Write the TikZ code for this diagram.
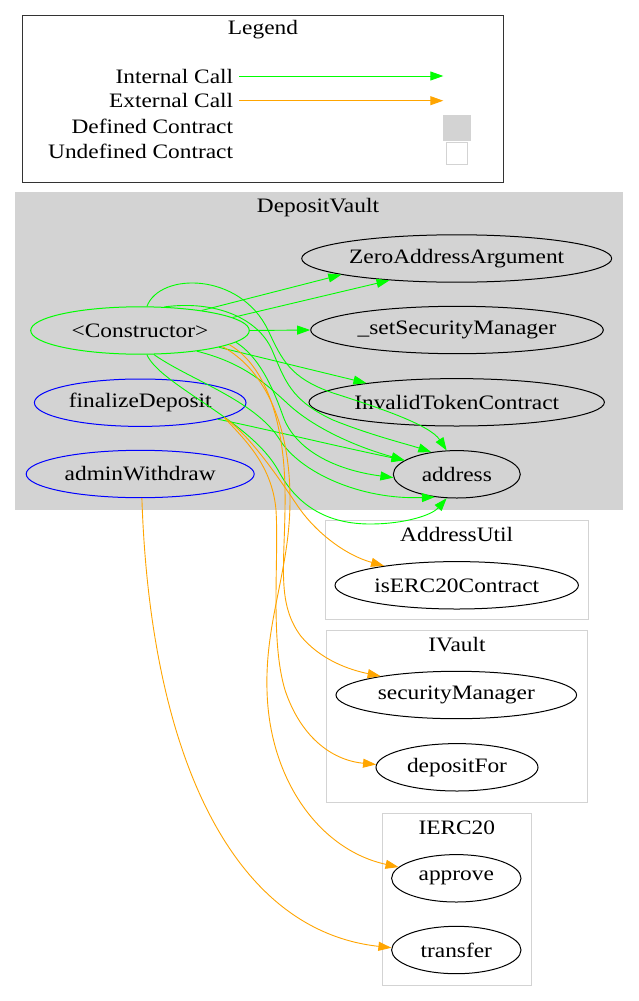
\documentclass[tikz,border=0pt]{standalone}
\usepackage{fontspec}
\setmainfont{Liberation Serif}[FakeStretch=1.14]
\usetikzlibrary{shapes.geometric,arrows.meta}
\definecolor{intc}{HTML}{00FF00}
\definecolor{extc}{HTML}{FFA500}
\definecolor{defc}{HTML}{D3D3D3}
\definecolor{cbord}{HTML}{D3D3D3}
\definecolor{funcb}{HTML}{0000FF}
\definecolor{legb}{HTML}{333333}
\newcommand{\gvfont}{\fontsize{20.5}{24}\selectfont}
\begin{document}
\begin{tikzpicture}[x=1pt,y=-1pt,
  every node/.style={font=\gvfont},
  fn/.style={ellipse,draw=black,line width=1pt,inner sep=0pt,minimum height=47.4pt,minimum width=#1},
  ctorfn/.style={fn=#1,draw=intc},
  pubfn/.style={fn=#1,draw=funcb},
  clus/.style={draw=cbord,line width=1pt},
  lbl/.style={inner sep=0pt},
  int/.style={draw=intc,line width=0.9pt,-{Triangle[length=13pt,width=9pt]}},
  ext/.style={draw=extc,line width=0.9pt,-{Triangle[length=13pt,width=9pt]}}
]
\useasboundingbox (0,0) rectangle (639,1001);
\fill[white] (0,0) rectangle (639,1001);

% Legend
\draw[draw=legb,line width=0.9pt] (22,15.3) rectangle (503.3,182.7);
\node[lbl] (legend) at (263,30) {Legend};
\node[lbl,anchor=east] (lint) at (233.3,76) {Internal Call};
\node[lbl,anchor=east] (lext) at (233.3,100.7) {External Call};
\node[lbl,anchor=east] (ldef) at (233.3,126) {Defined Contract};
\node[lbl,anchor=east] (lund) at (233.3,151.7) {Undefined Contract};
\coordinate (li0) at (239.3,76);
\coordinate (li1) at (443.3,76);
\coordinate (le0) at (239.3,100.7);
\coordinate (le1) at (443.3,100.7);
\draw[int] (li0) -- (li1);
\draw[ext] (le0) -- (le1);
\draw[fill=defc,draw=defc,line width=0.8pt] (443.3,115) rectangle (470,140);
\draw[fill=white,draw=cbord,line width=0.8pt] (446,142.7) rectangle (467.7,164);

% Clusters
\fill[defc] (15,192) rectangle (623,509.5);
\node[lbl] (cdv) at (318,207.5) {DepositVault};
\draw[clus] (325,520) rectangle (588.7,619.3);
\node[lbl] (cau) at (456.7,534) {AddressUtil};
\draw[clus] (326.7,630.7) rectangle (587.3,802.3);
\node[lbl] (civ) at (457,645) {IVault};
\draw[clus] (382,813.3) rectangle (531.7,985);
\node[lbl] (cie) at (456.8,827.7) {IERC20};

% Nodes
\node[ctorfn=218.6pt] (ctor) at (140,330.5) {<Constructor>};
\node[pubfn=211.6pt] (fin) at (140.2,402.7) {finalizeDeposit};
\node[pubfn=228pt] (adm) at (140.2,474) {adminWithdraw};
\node[fn=310pt] (zaa) at (456.7,258.5) {ZeroAddressArgument};
\node[fn=292.6pt] (ssm) at (457,330) {\_setSecurityManager};
\node[fn=295.4pt] (itc) at (456.7,402.3) {InvalidTokenContract};
\node[fn=127pt] (addr) at (456.8,474.3) {address};
\node[fn=243.4pt] (iserc) at (456.7,585.3) {isERC20Contract};
\node[fn=240.6pt] (sec) at (456.3,695) {securityManager};
\node[fn=162pt] (dep) at (457,767.3) {depositFor};
\node[fn=129.4pt] (app) at (456.3,878.3) {approve};
\node[fn=129.4pt] (tr) at (456.3,950) {transfer};

% Internal calls
\draw[int] (ctor.18) -- (zaa.188.3);
\draw[int] (ctor.8.8) -- (zaa.198.6);
\draw[int] (ctor.east) -- (ssm.west);
\draw[int] (ctor.-12) -- (itc.168);
\draw[int] (ctor.74) .. controls (160,272) and (240,272) .. (268,330)
  .. controls (282,360) and (290,378) .. (333,393)
  .. controls (380,408) and (430,425) .. (addr.113);
\draw[int] (ctor.44) .. controls (215,300) and (258,318) .. (272,350)
  .. controls (285,380) and (290,400) .. (333,420)
  .. controls (370,435) and (410,445) .. (addr.139);
\draw[int] (ctor.-20) .. controls (240,362) and (262,380) .. (287,403)
  .. controls (310,425) and (350,445) .. (addr.165);
\draw[int] (fin.-12) .. controls (270,430) and (340,447) .. (addr.165);
\draw[int] (ctor.-7) .. controls (258,356) and (272,385) .. (283,416)
  .. controls (295,450) and (335,470) .. (addr.183);
\draw[int] (ctor.-60) .. controls (190,380) and (255,400) .. (280,440)
  .. controls (300,472) and (360,500) .. (addr.226);
\draw[int] (ctor.-74) .. controls (160,385) and (250,420) .. (278,470)
  .. controls (298,508) and (330,524) .. (370,524)
  .. controls (405,524) and (432,515) .. (addr.247);

% External calls
\draw[ext] (fin.-10) .. controls (250,435) and (280,480) .. (297,505)
  .. controls (315,532) and (345,555) .. (iserc.165);
\draw[ext] (ctor.-9) .. controls (265,365) and (284,420) .. (285,490)
  .. controls (286,560) and (275,600) .. (300,635)
  .. controls (320,660) and (350,670) .. (sec.166);
\draw[ext] (fin.-10.5) .. controls (245,440) and (272,465) .. (276,510)
  .. controls (279,560) and (270,640) .. (285,690)
  .. controls (300,735) and (330,760) .. (dep.178);
\draw[ext] (ctor.-11) .. controls (262,368) and (290,420) .. (290,500)
  .. controls (290,570) and (265,620) .. (267,690)
  .. controls (269,780) and (320,850) .. (app.169);
\draw[ext] (adm.-86) .. controls (150,750) and (230,930) .. (tr.178);
\end{tikzpicture}
\end{document}
